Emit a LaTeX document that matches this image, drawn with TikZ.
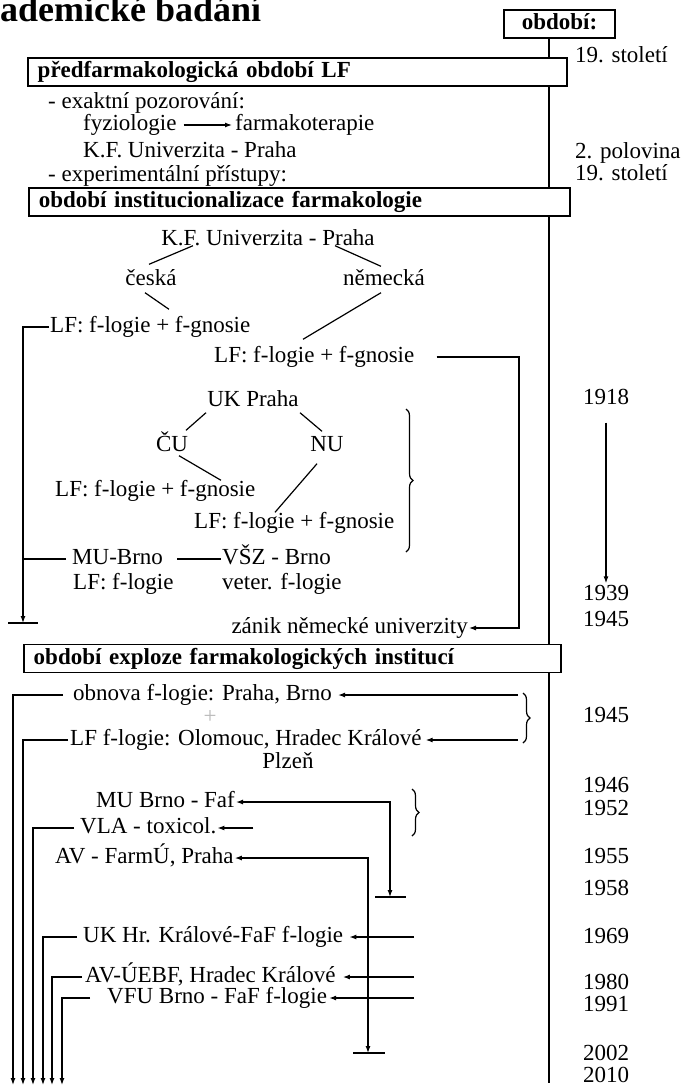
\documentclass[tikz,border=0pt]{standalone}
\usepackage{fontspec}
\setmainfont{Liberation Serif}
\usetikzlibrary{arrows.meta,calc,positioning,decorations.pathreplacing}
\newcommand{\txtsize}{\fontsize{23}{25}\selectfont}
\tikzset{
  wire/.style      = {line width=1.2pt},
  tip/.style       = {-{Latex[length=7pt,width=5pt]}, line width=1.2pt},
  both tips/.style = {{Latex[length=7pt,width=5pt]}-{Latex[length=7pt,width=5pt]}, line width=1.2pt},
  periodbox/.style = {draw, fill=white, line width=1.5pt, anchor=west, align=left,
                      inner xsep=10pt, minimum height=28pt, font=\txtsize\bfseries},
  curly/.style     = {decorate, decoration={brace, amplitude=7pt}, line width=1.2pt},
}

\begin{document}
\begin{tikzpicture}[
    x=1pt, y=1pt,
    every node/.style={inner sep=1pt, text height=16pt, text depth=5pt, font=\txtsize},
  ]
  \useasboundingbox (0,0) rectangle (685,-1088);

  % ---- cropped heading ----------------------------------------------------
  \node[anchor=base west, inner sep=0pt, text height=, text depth=,
        font=\fontsize{36}{36}\selectfont\bfseries] (title) at (0,-21) {ademické badání};

  % ---- time axis ----------------------------------------------------------
  \node[draw, line width=1.5pt, minimum width=111pt, minimum height=28pt,
        font=\txtsize\bfseries] (obd) at (559.5,-24) {období:};
  \coordinate (axisend) at (549,-1083);
  \draw[wire] (obd.south -| axisend) -- (axisend);

  % ---- period boxes (white, over the axis) --------------------------------
  \node[periodbox, text width=519pt] (pf) at (27,-72)    {předfarmakologická období LF};
  \node[periodbox, text width=521pt] (pi) at (28,-202)   {období institucionalizace farmakologie};
  \node[periodbox, text width=517pt] (pe) at (23,-658.5) {období exploze farmakologických institucí};

  % ---- years --------------------------------------------------------------
  \node[anchor=west] (c19a) at (574,-57)  {19. století};
  \node[anchor=west] (c2p)  at (574,-153) {2. polovina};
  \node[anchor=west] (c19b) at (574,-175) {19. století};
  \foreach \yr/\y in {1918/399, 1939/595, 1945/621, 1946/787, 1952/810, 1955/858,
                      1958/890, 1969/938, 1980/984, 1991/1006, 2002/1055, 2010/1077}
    { \node (y\yr) at (606,-\y) {\yr}; }
  \node (y1945b) at (606,-717) {1945};
  \draw[tip] ($(y1918.south)+(0,-12)$) -- (y1939.north);

  % ---- pre-pharmacological period ----------------------------------------
  \node[anchor=west] (exakt) at (47,-103) {- exaktní pozorování:};
  \node[anchor=west] (fyz)   at (82,-125) {fyziologie};
  \node[anchor=west] (farmt) at (234,-125) {farmakoterapie};
  \draw[tip, shorten >=2pt] ([xshift=6pt]fyz.east) -- (farmt.west);
  \node[anchor=west] (kfu1)  at (82,-152) {K.F. Univerzita - Praha};
  \node[anchor=west] (exper) at (47,-176) {- experimentální přístupy:};

  % ---- split of the Prague university ------------------------------------
  \node (kfu2)    at (268,-240) {K.F. Univerzita - Praha};
  \node (ceska)   at (151,-280) {česká};
  \node (nemecka) at (384,-280) {německá};
  \node[anchor=west] (lf1) at (49,-327)  {LF: f-logie + f-gnosie};
  \node[anchor=west] (lf2) at (213,-357) {LF: f-logie + f-gnosie};
  \draw[wire] ($(kfu2.south)+(-75,6)$) -- ($(ceska.north)+(-2,4)$);
  \draw[wire] ($(kfu2.south)+(67,6)$)  -- ($(nemecka.north)+(-3,2)$);
  \draw[wire] ($(ceska.south)+(-6,-1)$)   -- ($(lf1.north west)+(120,6)$);
  \draw[wire] ($(nemecka.south)+(-3,-1)$) -- ($(lf2.north west)+(90,6)$);

  \node (ukp) at (253,-401) {UK Praha};
  \node (cu)  at (172,-446) {ČU};
  \node (nu)  at (327,-446) {NU};
  \node[anchor=west] (lf3) at (54,-491)  {LF: f-logie + f-gnosie};
  \node[anchor=west] (lf4) at (193,-523) {LF: f-logie + f-gnosie};
  \draw[wire] ($(ukp.south)+(-47,0)$) -- ($(cu.north)+(14,4)$);
  \draw[wire] ($(ukp.south)+(47,0)$)  -- ($(nu.north)+(-5,3)$);
  \draw[wire] ($(cu.south)+(7,2)$)    -- ($(lf3.north west)+(167,-1)$);
  \draw[wire] ($(nu.south)+(-10,-6)$) -- ($(lf4.north west)+(82,-1)$);
  \draw[curly] (406,-409) -- (406,-552);

  \node[anchor=west] (mub)   at (71,-559)  {MU-Brno};
  \node[anchor=west] (vsz)   at (221,-559) {VŠZ - Brno};
  \node[anchor=west] (mulf)  at (72,-584)  {LF: f-logie};
  \node[anchor=west] (veter) at (221,-584) {veter. f-logie};
  \draw[wire] ($(mub.east)+(13,0)$) -- (vsz.west);
  \node[anchor=east] (zanik) at (469,-628) {zánik německé univerzity};

  % czech line ends with a stop bar, german one with the closing
  \coordinate (stop1) at (23,-623);
  \draw[tip] (lf1.west) -| (stop1);
  \draw[wire] ([xshift=-5pt]mub.west) -- (mub.west -| stop1);
  \draw[wire] ($(stop1)+(-15,0)$) -- ($(stop1)+(15,0)$);
  \draw[tip] ($(lf2.east)+(21,0)$) -| ($(zanik.east)+(50,0)$) -- (zanik.east);

  % ---- explosion of institutions -----------------------------------------
  \node[anchor=west] (obnova) at (72,-695) {obnova f-logie: Praha, Brno};
  \node[text=gray!55] (plus) at (210,-718) {+};
  \node[anchor=west] (lfol) at (69,-740) {LF f-logie: Olomouc, Hradec Králové};
  \node (plzen) at (288,-763) {Plzeň};
  \coordinate (r45) at (518,0);
  \draw[tip] (obnova.east -| r45) -- ([xshift=5pt]obnova.east);
  \draw[tip] (lfol.east -| r45) -- ([xshift=3pt]lfol.east);
  \draw[curly] (523,-693) -- (523,-743);

  \node[anchor=west] (mubf) at (95,-802) {MU Brno - Faf};
  \node[anchor=west] (vla)  at (79,-828) {VLA - toxicol.};
  \node[anchor=west] (avf)  at (54,-858) {AV - FarmÚ, Praha};
  \draw[curly] (412,-789) -- (412,-836);
  \coordinate (stop2) at (390,-897);
  \draw[both tips] (mubf.east) -| (stop2);
  \draw[wire] ($(stop2)+(-15,0)$) -- ($(stop2)+(16,0)$);
  \draw[tip] ($(vla.east)+(36,0)$) -- (vla.east);
  \coordinate (stop3) at (368,-1053);
  \draw[both tips] (avf.east) -| (stop3);
  \draw[wire] ($(stop3)+(-15,0)$) -- ($(stop3)+(17,0)$);

  \node[anchor=west] (ukhk) at (82,-937)  {UK Hr. Králové-FaF f-logie};
  \node[anchor=west] (avu)  at (84,-977)  {AV-ÚEBF, Hradec Králové};
  \node[anchor=west] (vfu)  at (106,-998) {VFU Brno - FaF f-logie};
  \coordinate (r69) at (414,0);
  \draw[tip] (ukhk.east -| r69) -- ([xshift=5pt]ukhk.east);
  \draw[tip] (avu.east -| r69)  -- ([xshift=6pt]avu.east);
  \draw[tip] (vfu.east -| r69)  -- ([xshift=1pt]vfu.east);

  % six lines running down to the bottom edge
  \coordinate (bot) at (0,-1085);
  \foreach \n/\x/\g in {obnova/13/9, lfol/23/1, vla/33/5, ukhk/43/5, avu/52/2, vfu/62/16}
    { \draw[tip] ([xshift=-\g pt]\n.west) -| ([xshift=\x pt]bot); }
\end{tikzpicture}
\end{document}
